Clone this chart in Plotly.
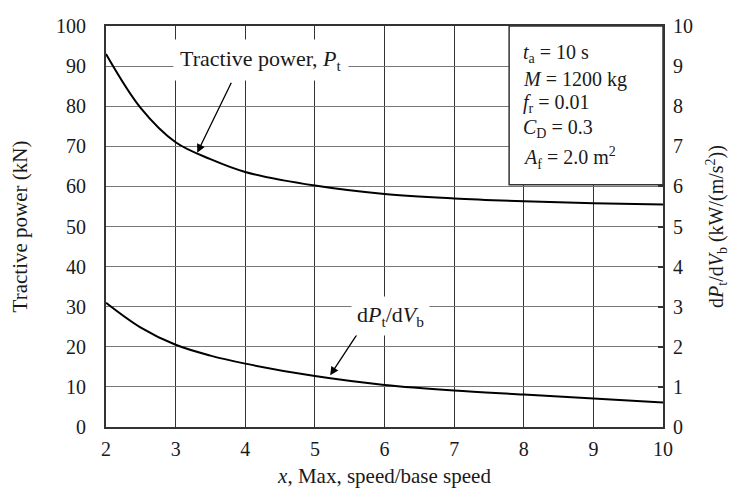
import plotly.graph_objects as go

# Data
x_ratio = [2, 2.5, 3, 3.5, 4, 5, 6, 7, 8, 9, 10]
tractive_power = [93, 79.5, 71, 66.8, 63.6, 60.2, 58.1, 57.0, 56.3, 55.8, 55.5]
dpt_dvb = [3.1, 2.48, 2.05, 1.78, 1.58, 1.27, 1.05, 0.91, 0.81, 0.71, 0.61]

x_ticks = [2, 3, 4, 5, 6, 7, 8, 9, 10]
y_ticks = [0, 10, 20, 30, 40, 50, 60, 70, 80, 90, 100]
y2_ticks = [0, 1, 2, 3, 4, 5, 6, 7, 8, 9, 10]

params = [
    "<i>t</i><sub>a</sub> = 10 s",
    "<i>M</i> = 1200 kg",
    "<i>f</i><sub>r</sub> = 0.01",
    "<i>C</i><sub>D</sub> = 0.3",
    "<i>A</i><sub>f</sub> = 2.0 m<sup>2</sup>",
]
param_y = [93.2, 86.7, 80.6, 74.5, 67.0]

FONT = "Liberation Serif, Times New Roman, serif"
TXT = "#1a1a1a"

fig = go.Figure()
fig.add_trace(go.Scatter(x=x_ratio, y=tractive_power, mode="lines",
                         line=dict(color="black", width=2, shape="spline"),
                         showlegend=False, yaxis="y"))
fig.add_trace(go.Scatter(x=x_ratio, y=dpt_dvb, mode="lines",
                         line=dict(color="black", width=2, shape="spline"),
                         showlegend=False, yaxis="y2"))

fig.update_layout(
    width=728, height=485,
    margin=dict(l=98, r=73, t=7, b=66),
    paper_bgcolor="white", plot_bgcolor="white",
    font=dict(family=FONT, size=20, color=TXT),
    xaxis=dict(range=[2, 10], tickvals=x_ticks, showgrid=True,
               gridcolor="#333", gridwidth=1.2, zeroline=False,
               showline=True, linecolor="#333", linewidth=2, mirror=True,
               ticks="", ticklabelstandoff=3, tickfont=dict(size=20),
               ticklabeloverflow="allow",
               title=dict(text="<i>x</i>, Max, speed/base speed", font=dict(size=21), standoff=9)),
    yaxis=dict(range=[0, 100], tickvals=y_ticks, showgrid=True,
               gridcolor="#777", gridwidth=1.2, zeroline=False,
               showline=True, linecolor="#333", linewidth=2,
               ticks="", ticklabelstandoff=14, tickfont=dict(size=20),
               ticklabeloverflow="allow",
               title=dict(text="Tractive power (kN)", font=dict(size=21), standoff=26)),
    yaxis2=dict(range=[0, 10], tickvals=y2_ticks, overlaying="y", side="right",
                showgrid=False, zeroline=False, showline=True, linecolor="#333", linewidth=2,
                ticks="inside", ticklen=5, tickcolor="#333", tickwidth=1.5,
                ticklabelstandoff=4, tickfont=dict(size=20),
                ticklabeloverflow="allow",
                title=dict(text="d<i>P</i><sub>t</sub>/d<i>V</i><sub>b</sub> (kW/(m/s<sup>2</sup>))",
                           font=dict(size=20), standoff=17)),
)

# Parameter box
fig.add_shape(type="rect", xref="x", yref="y", x0=7.79, x1=10, y0=60.4, y1=100,
              line=dict(color="#333", width=1.5), fillcolor="white", layer="above")
for txt, yy in zip(params, param_y):
    fig.add_annotation(x=7.96, y=yy, xref="x", yref="y", text=txt, showarrow=False,
                       xanchor="left", yanchor="middle", font=dict(size=20, color=TXT))

# Curve labels with arrows
fig.add_annotation(x=3.31, y=68.4, ax=3.81, ay=86.2, axref="x", ayref="y",
                   xref="x", yref="y", text="", showarrow=True,
                   arrowhead=2, arrowsize=1.3, arrowwidth=1.3, arrowcolor="black")
fig.add_annotation(x=4.23, y=91.5, xref="x", yref="y",
                   text="Tractive power, <i>P</i><sub>t</sub>", showarrow=False,
                   bgcolor="white", borderpad=6, font=dict(size=22, color=TXT))

fig.add_annotation(x=5.22, y=12.9, ax=5.62, ay=23.5, axref="x", ayref="y",
                   xref="x", yref="y", text="", showarrow=True,
                   arrowhead=2, arrowsize=1.3, arrowwidth=1.3, arrowcolor="black")
fig.add_annotation(x=6.08, y=27.7, xref="x", yref="y",
                   text="d<i>P</i><sub>t</sub>/d<i>V</i><sub>b</sub>", showarrow=False,
                   bgcolor="white", borderpad=5, font=dict(size=22, color=TXT))

fig.write_html("out.html")
